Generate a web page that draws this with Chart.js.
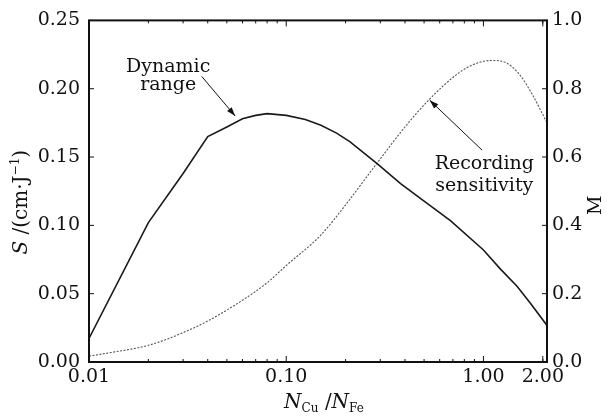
<!DOCTYPE html>
<html>
<head>
<meta charset="utf-8">
<script src="https://cdn.jsdelivr.net/npm/chart.js@4"></script>
<style>
  body { margin: 0; background: #fff; }
</style>
</head>
<body>
<canvas id="chart" width="607" height="419"></canvas>
<script>
// Cu/Fe ratio (log x axis)
const dynX = [0.01, 0.02, 0.03, 0.04, 0.05, 0.06, 0.07, 0.08, 0.1, 0.125, 0.15, 0.18, 0.21, 0.29, 0.38, 0.51, 0.68, 1.0, 1.22, 1.48, 1.73, 2.1];
// dynamic range, M (right axis)
const dynM = [0.069, 0.408, 0.552, 0.66, 0.688, 0.712, 0.722, 0.727, 0.722, 0.710, 0.693, 0.670, 0.645, 0.580, 0.522, 0.467, 0.414, 0.328, 0.272, 0.222, 0.172, 0.107];

const sensX = [0.01, 0.013, 0.02, 0.03, 0.04, 0.06, 0.08, 0.1, 0.15, 0.2, 0.28, 0.4, 0.53, 0.75, 0.9, 1.1, 1.3, 1.5, 1.75, 2.1];
// recording sensitivity, S in cm/J (left axis)
const sensS = [0.0043, 0.007, 0.0122, 0.0215, 0.030, 0.0452, 0.058, 0.0706, 0.093, 0.115, 0.143, 0.172, 0.192, 0.2116, 0.218, 0.2207, 0.219, 0.2116, 0.197, 0.175];

const xTicks = [0.01, 0.1, 1, 2];
const xMinor = [0.02, 0.03, 0.04, 0.05, 0.06, 0.07, 0.08, 0.09, 0.2, 0.3, 0.4, 0.5, 0.6, 0.7, 0.8, 0.9, 2];

const FONT = 'DejaVu Serif';
const INK = '#111';

// draw a run of text pieces: [text, size, italic, dy]
function richText(ctx, pieces, cx, cy) {
  let total = 0;
  pieces.forEach(p => {
    ctx.font = (p[2] ? 'italic ' : '') + p[1] + 'px "' + FONT + '"';
    p.w = ctx.measureText(p[0]).width;
    total += p.w;
  });
  let x = cx - total / 2;
  ctx.textAlign = 'left';
  ctx.textBaseline = 'alphabetic';
  pieces.forEach(p => {
    ctx.font = (p[2] ? 'italic ' : '') + p[1] + 'px "' + FONT + '"';
    ctx.fillText(p[0], x, cy + (p[3] || 0));
    x += p.w;
  });
}

function arrow(ctx, x1, y1, x2, y2) {
  ctx.beginPath();
  ctx.moveTo(x1, y1);
  ctx.lineTo(x2, y2);
  ctx.stroke();
  const a = Math.atan2(y2 - y1, x2 - x1);
  ctx.beginPath();
  ctx.moveTo(x2, y2);
  ctx.lineTo(x2 - 9 * Math.cos(a) + 3 * Math.sin(a), y2 - 9 * Math.sin(a) - 3 * Math.cos(a));
  ctx.lineTo(x2 - 9 * Math.cos(a) - 3 * Math.sin(a), y2 - 9 * Math.sin(a) + 3 * Math.cos(a));
  ctx.closePath();
  ctx.fill();
}

const decorations = {
  id: 'decorations',
  afterDraw(chart) {
    const ctx = chart.ctx;
    const a = chart.chartArea;
    const sx = chart.scales.x, sy = chart.scales.y, sy1 = chart.scales.y1;
    ctx.save();
    ctx.strokeStyle = INK;
    ctx.fillStyle = INK;

    // frame
    ctx.lineWidth = 2;
    ctx.strokeRect(a.left, a.top, a.right - a.left, a.bottom - a.top);

    // inward ticks
    ctx.lineWidth = 1;
    ctx.beginPath();
    sy.ticks.forEach(t => {
      const p = sy.getPixelForValue(t.value);
      ctx.moveTo(a.left, p); ctx.lineTo(a.left + 5, p);
    });
    sy1.ticks.forEach(t => {
      const p = sy1.getPixelForValue(t.value);
      ctx.moveTo(a.right, p); ctx.lineTo(a.right - 5, p);
    });
    xTicks.forEach(v => {
      const p = sx.getPixelForValue(v);
      ctx.moveTo(p, a.bottom); ctx.lineTo(p, a.bottom - 6);
      ctx.moveTo(p, a.top); ctx.lineTo(p, a.top + 6);
    });
    xMinor.forEach(v => {
      const p = sx.getPixelForValue(v);
      ctx.moveTo(p, a.bottom); ctx.lineTo(p, a.bottom - 3);
      ctx.moveTo(p, a.top); ctx.lineTo(p, a.top + 3);
    });
    ctx.stroke();

    // axis titles
    ctx.save();
    ctx.translate(20, (a.top + a.bottom) / 2 + 11);
    ctx.rotate(-Math.PI / 2);
    richText(ctx, [['S', 20, true], [' /(cm\u00b7J', 20, false], ['\u22121', 12, false, -8], [')', 20, false]], 0, 7);
    ctx.restore();

    ctx.save();
    ctx.translate(594, (a.top + a.bottom) / 2 + 14);
    ctx.rotate(-Math.PI / 2);
    richText(ctx, [['M', 19, false]], 0, 7);
    ctx.restore();

    richText(ctx, [['N', 20, true], ['Cu', 12, false, 4], [' /', 20, false], ['N', 20, true], ['Fe', 12, false, 4]],
      (a.left + a.right) / 2 + 6, 408);

    // annotations, placed in data coordinates
    ctx.font = '19px "' + FONT + '"';
    ctx.textAlign = 'center';
    ctx.textBaseline = 'alphabetic';
    ctx.fillText('Dynamic', sx.getPixelForValue(0.0252), sy.getPixelForValue(0.2125));
    ctx.fillText('range', sx.getPixelForValue(0.0252), sy.getPixelForValue(0.199));
    ctx.fillText('Recording', sx.getPixelForValue(1.01), sy.getPixelForValue(0.141));
    ctx.fillText('sensitivity', sx.getPixelForValue(1.01), sy.getPixelForValue(0.125));

    ctx.lineWidth = 1;
    arrow(ctx, sx.getPixelForValue(0.0373), sy.getPixelForValue(0.209),
      sx.getPixelForValue(0.0551), sy.getPixelForValue(0.180));
    arrow(ctx, sx.getPixelForValue(0.985), sy.getPixelForValue(0.155),
      sx.getPixelForValue(0.534), sy.getPixelForValue(0.1916));
    ctx.restore();
  }
};

const tickFont = { family: FONT, size: 19 };

new Chart(document.getElementById('chart'), {
  type: 'line',
  data: {
    datasets: [{
      label: 'Dynamic range',
      data: dynX.map((x, i) => ({ x, y: dynM[i] })),
      yAxisID: 'y1',
      borderColor: '#1a1a1a',
      borderWidth: 1.6,
      pointRadius: 0,
      tension: 0,
      fill: false
    }, {
      label: 'Recording sensitivity',
      data: sensX.map((x, i) => ({ x, y: sensS[i] })),
      yAxisID: 'y',
      borderColor: '#555',
      borderWidth: 1.1,
      borderDash: [2, 1.5],
      pointRadius: 0,
      cubicInterpolationMode: 'monotone',
      fill: false
    }]
  },
  options: {
    responsive: false,
    animation: false,
    layout: { padding: { top: 15, left: 0, right: 0, bottom: 0 } },
    plugins: { legend: { display: false }, tooltip: { enabled: false } },
    scales: {
      x: {
        type: 'logarithmic',
        min: 0.01,
        max: 2.1,
        grid: { display: false, drawTicks: false },
        border: { display: false },
        afterBuildTicks: s => { s.ticks = xTicks.map(v => ({ value: v })); },
        afterFit: s => { s.height = 57; },
        ticks: {
          font: tickFont, color: INK, padding: 4, maxRotation: 0, autoSkip: false,
          callback: v => Number(v).toFixed(2)
        }
      },
      y: {
        position: 'left',
        min: 0,
        max: 0.25,
        grid: { display: false, drawTicks: false },
        border: { display: false },
        afterFit: s => { s.width = 89; },
        ticks: { stepSize: 0.05, font: tickFont, color: INK, padding: 9, callback: v => v.toFixed(2) }
      },
      y1: {
        position: 'right',
        min: 0,
        max: 1,
        grid: { display: false, drawTicks: false },
        border: { display: false },
        afterFit: s => { s.width = 60; },
        ticks: { stepSize: 0.2, font: tickFont, color: INK, padding: 5, callback: v => v.toFixed(1) }
      }
    }
  },
  plugins: [decorations]
});
</script>
</body>
</html>
